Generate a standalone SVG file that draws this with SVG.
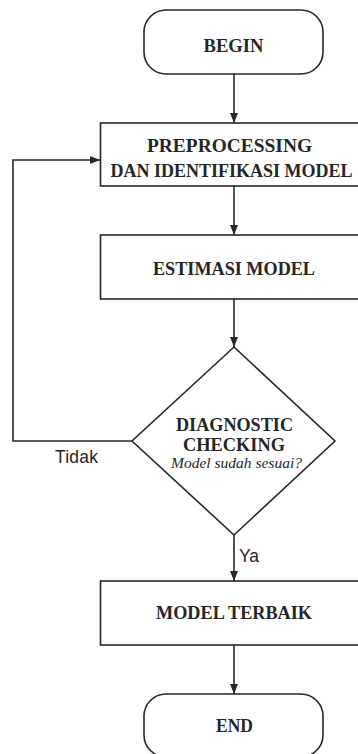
<svg xmlns="http://www.w3.org/2000/svg" width="358" height="754" viewBox="0 0 358 754">
<style>
.shape{fill:#fff;stroke:#262626;stroke-width:1.6}
.conn{fill:none;stroke:#262626;stroke-width:1.6}
.t{font-family:"Liberation Serif","Times New Roman",serif;font-weight:bold;font-size:19.5px;fill:#262626;text-anchor:middle}
.ti{font-family:"Liberation Serif","Times New Roman",serif;font-style:italic;font-size:15.5px;fill:#262626;text-anchor:middle}
.lbl{font-family:"Liberation Sans",Arial,sans-serif;font-size:17.5px;fill:#262626}
</style>
<defs>
<marker id="arr" markerUnits="userSpaceOnUse" markerWidth="10" markerHeight="10" viewBox="0 0 10 10" refX="10" refY="5" orient="auto">
<path d="M0,1 L10,5 L0,9 Z" fill="#262626"/>
</marker>
</defs>
<rect width="358" height="754" fill="#fff"/>
<g id="connectors">
<line class="conn" x1="234" y1="74" x2="234" y2="123" marker-end="url(#arr)"/>
<line class="conn" x1="234" y1="186" x2="234" y2="235" marker-end="url(#arr)"/>
<line class="conn" x1="234" y1="299" x2="234" y2="347" marker-end="url(#arr)"/>
<line class="conn" x1="234" y1="535" x2="234" y2="581" marker-end="url(#arr)"/>
<line class="conn" x1="234" y1="645" x2="234" y2="694" marker-end="url(#arr)"/>
<polyline class="conn" points="132,441 13,441 13,160 100,160" marker-end="url(#arr)"/>
<text class="lbl" x="55" y="463" textLength="43">Tidak</text>
<text class="lbl" x="239" y="562" font-size="16.5">Ya</text>
</g>
<g id="begin">
<rect class="shape" x="144" y="10" width="179" height="64" rx="22" ry="22"/>
<text class="t" x="233.5" y="52" textLength="60" lengthAdjust="spacingAndGlyphs">BEGIN</text>
</g>
<g id="preprocessing">
<rect class="shape" x="100.5" y="123" width="262" height="63"/>
<text class="t" x="229.5" y="152" textLength="165" lengthAdjust="spacingAndGlyphs">PREPROCESSING</text>
<text class="t" x="231.5" y="177" textLength="242" lengthAdjust="spacingAndGlyphs">DAN IDENTIFIKASI MODEL</text>
</g>
<g id="estimasi">
<rect class="shape" x="100.5" y="235" width="262" height="64"/>
<text class="t" x="234" y="275" textLength="162" lengthAdjust="spacingAndGlyphs">ESTIMASI MODEL</text>
</g>
<g id="diagnostic">
<polygon class="shape" points="234,347 335,441 234,535 132,441"/>
<text class="t" x="234.5" y="431" textLength="117" lengthAdjust="spacingAndGlyphs">DIAGNOSTIC</text>
<text class="t" x="234" y="451" textLength="102" lengthAdjust="spacingAndGlyphs">CHECKING</text>
<text class="ti" x="236.5" y="468" textLength="131" lengthAdjust="spacingAndGlyphs">Model sudah sesuai?</text>
</g>
<g id="terbaik">
<rect class="shape" x="100.5" y="581" width="262" height="64"/>
<text class="t" x="234" y="619" textLength="156" lengthAdjust="spacingAndGlyphs">MODEL TERBAIK</text>
</g>
<g id="end">
<rect class="shape" x="144" y="694" width="179" height="63" rx="22" ry="22"/>
<text class="t" x="234.5" y="732" textLength="37" lengthAdjust="spacingAndGlyphs">END</text>
</g>
</svg>
